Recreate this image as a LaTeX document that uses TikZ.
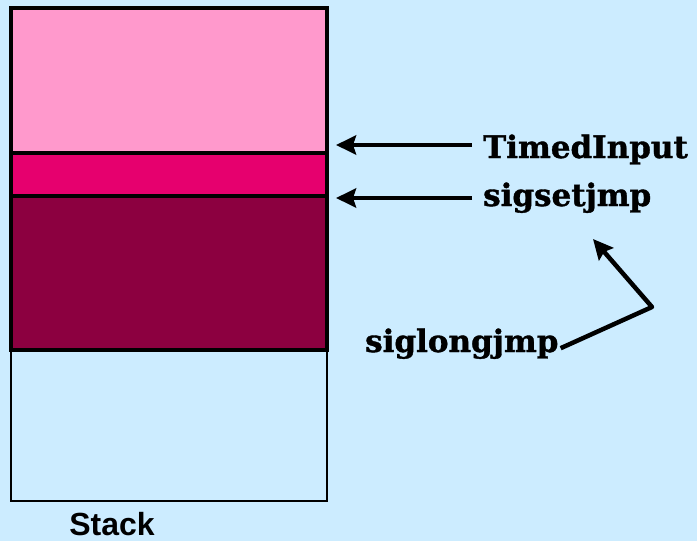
\documentclass[tikz,border=0pt]{standalone}
\usepackage{fontspec}
\setmainfont{DejaVu Serif}
\newfontfamily\callfont{DejaVu Serif Bold}[FakeBold=1.2]
\newfontfamily\stackfont{Liberation Sans}
\usetikzlibrary{arrows.meta}
\usetikzlibrary{positioning}
\definecolor{slidebg}{RGB}{204,236,255}
\definecolor{framepink}{RGB}{255,153,204}
\definecolor{framemagenta}{RGB}{230,0,110}
\definecolor{framedark}{RGB}{140,0,64}
\tikzstyle{layer}=[draw=black,line width=3.5pt,minimum width=316pt,inner sep=0pt,outer sep=0pt,anchor=north west]
\tikzstyle{callname}=[font=\callfont\fontsize{31}{36}\selectfont,inner sep=0pt,text depth=0pt,anchor=base west]
\tikzstyle{pointer}=[line width=4.5pt,-{Stealth[length=20pt,width=19pt,inset=3pt]}]

\begin{document}
\begin{tikzpicture}[x=1pt,y=-1pt]

  \fill[slidebg] (0,0) rectangle (697,541);
  \useasboundingbox (0,0) rectangle (697,541);

  % stack, top to bottom
  \node[layer,line width=1.4pt,minimum height=151pt] (freepart) at (11,350) {};
  \foreach \y/\h/\name/\col in {8/145/pinkpart/framepink, 153/43/magentapart/framemagenta, 196/154/darkpart/framedark}
    \node[layer,fill=\col,minimum height=\h pt] (\name) at (11,\y) {};

  \node[font=\stackfont\fontsize{32}{38}\selectfont\bfseries,inner sep=0pt,anchor=base] (stacklabel) at (112,535) {Stack};

  % labels
  \node[callname] (timedinput) at (483,158) {TimedInput};
  \node[callname] (sigsetjmp) at (483,206) {sigsetjmp};
  \node[callname] (siglongjmp) at (365,352) {siglongjmp};

  \coordinate (timedtip) at (336,145);
  \coordinate (setjmptip) at (336,198);
  \coordinate (jumpbend) at (652,307);
  \coordinate (jumptip) at (593,239);

  \draw[pointer,shorten <=11pt] (timedinput.west |- timedtip) -- (timedtip);
  \draw[pointer,shorten <=11pt] (sigsetjmp.west |- setjmptip) -- (setjmptip);
  \draw[pointer,line join=round] ([xshift=2pt,yshift=4pt]siglongjmp.south east) -- (jumpbend) -- (jumptip);

\end{tikzpicture}
\end{document}
